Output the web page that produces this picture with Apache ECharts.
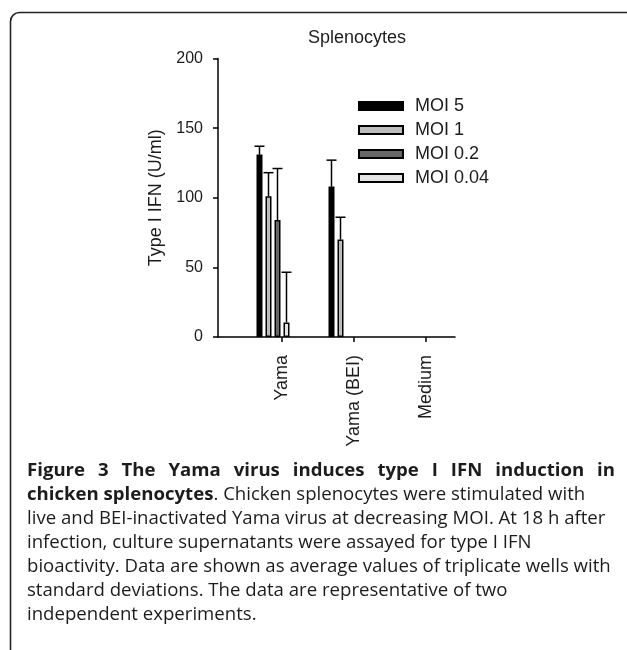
<!DOCTYPE html>
<html><head><meta charset="utf-8">
<script src="https://cdn.jsdelivr.net/npm/echarts@6/dist/echarts.min.js"></script>
<style>html,body{margin:0;padding:0;background:#fff}#c{width:627px;height:650px}</style>
</head><body><div id="c"></div>
<script>
// ---- data ----
const categories = ['Yama', 'Yama (BEI)', 'Medium'];
const seriesNames = ['MOI 5', 'MOI 1', 'MOI 0.2', 'MOI 0.04'];
const moi5 = [131, 108, 0];
const moi1 = [101, 70, 0];
const moi02 = [84, 0, 0];
const moi004 = [10.5, 0, 0];
const moi5Sd = [6, 19, 0];
const moi1Sd = [17, 16, 0];
const moi02Sd = [37, 0, 0];
const moi004Sd = [36, 0, 0];
const yTicks = [0, 50, 100, 150, 200];
const chartTitle = 'Splenocytes';
const yName = 'Type I IFN (U/ml)';
const captionLine1 = 'Figure 3 The Yama virus induces type I IFN induction in';
const captionLine2Bold = 'chicken splenocytes';
const captionLine2 = '. Chicken splenocytes were stimulated with';
const captionRest = [
  'live and BEI-inactivated Yama virus at decreasing MOI. At 18 h after',
  'infection, culture supernatants were assayed for type I IFN',
  'bioactivity. Data are shown as average values of triplicate wells with',
  'standard deviations. The data are representative of two',
  'independent experiments.'
];

// ---- style / layout ----
const fills = ['#000000', '#bdbdbd', '#686868', '#e4e4e4'];
const ink = '#1c1c1c';
const chartFont = '"Liberation Sans", Arial, sans-serif';
const capFont = '"Open Sans", sans-serif';
const plotTop = 58.5, plotH = 278.5;
const barW = 6, barPitch = 9;

const valuesList = [moi5, moi1, moi02, moi004];
const sdList = [moi5Sd, moi1Sd, moi02Sd, moi004Sd];

const ctx = document.createElement('canvas').getContext('2d');
function tw(t, font) { ctx.font = font; return ctx.measureText(t).width; }

// caption sizing
const capLeft = 27;
const fs = Math.round(100 * 578 / tw(captionRest[0], '100px ' + capFont) * 10) / 10;
const capLineY0 = 471, capLineStep = 24;
const graphics = [];
// frame
graphics.push({
  type: 'rect', left: 8, top: 10, silent: true,
  shape: { width: 700, height: 700, r: [9, 0, 0, 0] },
  style: { fill: 'none', stroke: '#222', lineWidth: 1.6 }
});
// line 1, justified
(function () {
  const words = captionLine1.split(' ');
  const bf = 'bold ' + fs + 'px ' + capFont;
  const widths = words.map(w => tw(w, bf));
  const total = widths.reduce((a, b) => a + b, 0);
  const gap = (615 - capLeft - total) / (words.length - 1);
  let x = capLeft;
  words.forEach((w, i) => {
    graphics.push({
      type: 'text', x: x, y: capLineY0, silent: true,
      style: { text: w, fill: ink, font: bf, textVerticalAlign: 'middle' }
    });
    x += widths[i] + gap;
  });
})();
graphics.push({
  type: 'text', x: capLeft, y: capLineY0 + capLineStep, silent: true,
  style: {
    text: '{b|' + captionLine2Bold + '}{r|' + captionLine2 + '}',
    textVerticalAlign: 'middle',
    rich: {
      b: { fontFamily: capFont, fontWeight: 'bold', fontSize: fs, fill: ink, color: ink },
      r: { fontFamily: capFont, fontSize: fs, fill: ink, color: ink }
    }
  }
});
captionRest.forEach((t, i) => {
  graphics.push({
    type: 'text', x: capLeft, y: capLineY0 + capLineStep * (i + 2), silent: true,
    style: { text: t, fill: ink, font: fs + 'px ' + capFont, textVerticalAlign: 'middle' }
  });
});

const chart = echarts.init(document.getElementById('c'), null, { renderer: 'canvas' });

const barSeries = seriesNames.map((n, k) => ({
  name: n, type: 'bar', xAxisIndex: 2, yAxisIndex: 2,
  data: valuesList[k].map(v => v === 0 ? { value: v, itemStyle: { borderWidth: 0 } } : v),
  barWidth: barW, barGap: ((barPitch - barW) / barW * 100) + '%',
  itemStyle: { color: fills[k], borderColor: '#000', borderWidth: 1.5 },
  emphasis: { disabled: true }, z: 3
}));

const errSeries = seriesNames.map((n, k) => ({
  type: 'custom', xAxisIndex: 2, yAxisIndex: 2, z: 2, silent: true,
  data: categories.map((c, i) => [i, valuesList[k][i], sdList[k][i]]),
  renderItem: function (params, api) {
    const i = api.value(0), v = api.value(1), sd = api.value(2);
    if (!sd) return null;
    const b = api.coord([i, v]);
    const t = api.coord([i, v + sd]);
    const x = b[0] + (k - 1.5) * barPitch;
    const st = { stroke: '#000', lineWidth: 1.5 };
    return {
      type: 'group', children: [
        { type: 'line', shape: { x1: x, y1: b[1], x2: x, y2: t[1] }, style: st },
        { type: 'line', shape: { x1: x - 5, y1: t[1], x2: x + 5, y2: t[1] }, style: st }
      ]
    };
  }
}));

chart.setOption({
  animation: false,
  textStyle: { fontFamily: chartFont },
  title: {
    text: chartTitle, left: 357, top: 29, textAlign: 'center', padding: 0,
    textStyle: { fontSize: 18, fontWeight: 'normal', color: ink, fontFamily: chartFont }
  },
  legend: {
    data: seriesNames, orient: 'vertical', left: 358, top: 97, padding: 0,
    itemWidth: 44, itemHeight: 8, itemGap: 6, icon: 'rect', selectedMode: false,
    textStyle: { fontSize: 18, color: ink, fontFamily: chartFont, padding: [0, 0, 0, 7] }
  },
  grid: [
    { left: 218, top: plotTop, width: 237, height: plotH },
    { left: 246, top: plotTop, width: 216, height: plotH },
    { left: 237, top: plotTop, width: 216, height: plotH }
  ],
  xAxis: [
    { gridIndex: 0, type: 'category', data: categories,
      axisLine: { lineStyle: { color: '#000', width: 1.5 } },
      axisTick: { show: false }, axisLabel: { show: false }, splitLine: { show: false } },
    { gridIndex: 1, type: 'category', data: categories,
      axisLine: { show: false },
      axisTick: { show: true, alignWithLabel: true, length: 5, lineStyle: { color: '#000', width: 1.5 } },
      axisLabel: { rotate: 90, margin: 18, fontSize: 18, color: ink, fontFamily: chartFont, interval: 0 },
      splitLine: { show: false } },
    { gridIndex: 2, type: 'category', data: categories, show: false }
  ],
  yAxis: [
    { gridIndex: 0, type: 'value', min: yTicks[0], max: yTicks[yTicks.length - 1],
      interval: yTicks[1] - yTicks[0],
      name: yName, nameLocation: 'middle', nameGap: 53,
      nameTextStyle: { fontSize: 18, color: ink, fontFamily: chartFont },
      axisLine: { show: true, lineStyle: { color: '#000', width: 1.5 } },
      axisTick: { show: true, length: 5, lineStyle: { color: '#000', width: 1.5 } },
      axisLabel: { fontSize: 16, color: ink, margin: 15, fontFamily: chartFont },
      splitLine: { show: false } },
    { gridIndex: 1, type: 'value', min: yTicks[0], max: yTicks[yTicks.length - 1], show: false },
    { gridIndex: 2, type: 'value', min: yTicks[0], max: yTicks[yTicks.length - 1], show: false }
  ],
  series: barSeries.concat(errSeries),
  graphic: graphics
});
</script>
</body></html>
